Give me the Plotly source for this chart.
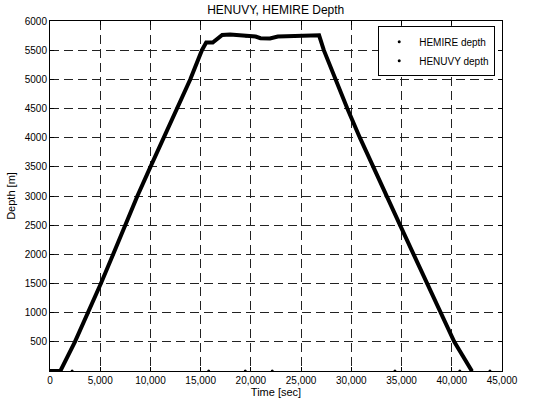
import plotly.graph_objects as go

# HENUVY depth profile (time [s], depth [m])
henuvy_time = [0, 1030, 2480, 3800, 5065, 6290, 7480, 8700, 10000, 11310, 12625,
               13970, 15125, 15550, 16200, 17145, 17930, 19530, 20470, 20950,
               21900, 22680, 25000, 26790, 27260, 28400, 29600, 30850,
               32150, 33450, 34850, 36200, 37550, 38920, 40250, 42000]
henuvy_depth = [0, 0, 500, 1000, 1500, 2000, 2500, 3000, 3500, 4000, 4500,
                5000, 5500, 5630, 5630, 5760, 5767, 5745, 5733, 5705,
                5700, 5733, 5755, 5755, 5500, 5000, 4500, 4000,
                3500, 3000, 2500, 2000, 1500, 1000, 500, 0]

# HEMIRE depth: sparse points near the surface
hemire_time = [2200, 15800, 19440, 22130, 34340, 40800, 43800]
hemire_depth = [0, 0, 0, 0, 0, 0, 0]

x_ticks = [0, 5000, 10000, 15000, 20000, 25000, 30000, 35000, 40000, 45000]
y_ticks = [500, 1000, 1500, 2000, 2500, 3000, 3500, 4000, 4500, 5000, 5500, 6000]

FONT = "Liberation Sans, Arial, sans-serif"

fig = go.Figure()
fig.add_trace(go.Scatter(
    x=hemire_time, y=hemire_depth, mode="markers", name="HEMIRE depth",
    marker=dict(color="black", size=3)))
fig.add_trace(go.Scatter(
    x=henuvy_time, y=henuvy_depth, mode="lines", name="HENUVY depth",
    line=dict(color="black", width=4), showlegend=False, legendgroup="henuvy"))
fig.add_trace(go.Scatter(
    x=henuvy_time, y=henuvy_depth, mode="markers", name="HENUVY depth",
    marker=dict(color="black", size=3), legendgroup="henuvy"))

axis_common = dict(
    showline=True, linecolor="black", linewidth=1, mirror="ticks",
    ticks="inside", ticklen=4, tickcolor="black", automargin=False,
    showgrid=True, gridcolor="#222222", griddash="9px,5px", gridwidth=1,
    zeroline=False, tickfont=dict(family=FONT, size=10, color="black"),
)

fig.update_layout(
    width=546, height=403,
    margin=dict(l=50, r=44, t=21, b=32),
    paper_bgcolor="white", plot_bgcolor="white",
    title=dict(text="HENUVY, HEMIRE Depth", x=0.505, xanchor="center",
               y=0.975, yanchor="middle",
               font=dict(family=FONT, size=12, color="black")),
    xaxis=dict(range=[0, 45000], tickvals=x_ticks, tickformat=",d",
               title=dict(text="Time [sec]", standoff=1,
                          font=dict(family=FONT, size=11, color="black")),
               **axis_common),
    yaxis=dict(range=[0, 6000], tickvals=y_ticks, tickformat="d",
               title=dict(text="Depth [m]", standoff=6,
                          font=dict(family=FONT, size=11, color="black")),
               **axis_common),
    legend=dict(x=0.985, y=0.985, xanchor="right", yanchor="top",
                bgcolor="white", bordercolor="black", borderwidth=1,
                font=dict(family=FONT, size=10, color="black"),
                tracegroupgap=0, itemsizing="trace", itemwidth=30),
    showlegend=True,
)

fig.write_html("out.html", config={"displayModeBar": False},
               post_script="document.body.style.margin='0';document.body.style.padding='0';")
